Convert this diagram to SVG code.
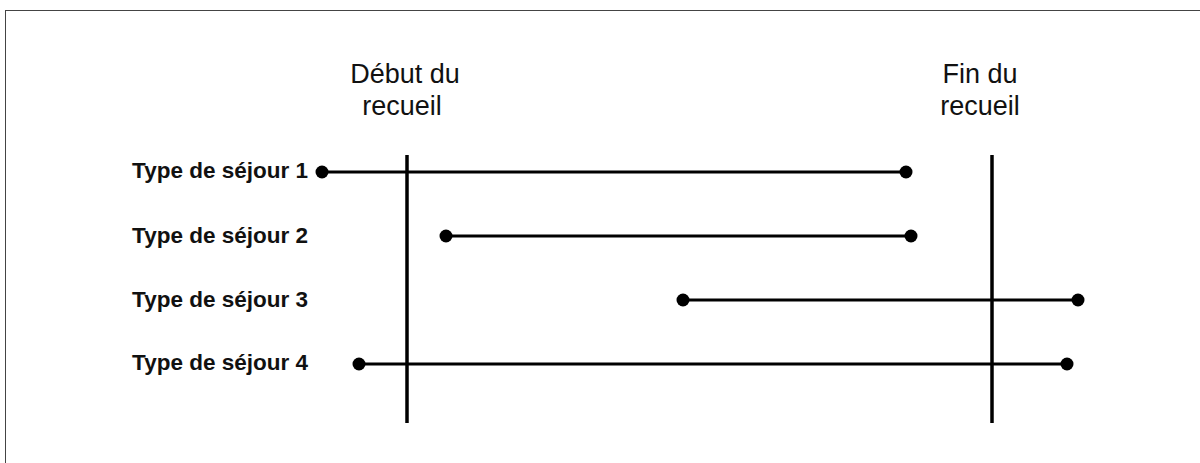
<svg xmlns="http://www.w3.org/2000/svg" width="1200" height="463" viewBox="0 0 1200 463">
  <style>
    .frame { fill: #ffffff; stroke: #444444; stroke-width: 1; }
    .marker-label { font-family: "Liberation Sans", Arial, sans-serif; font-size: 27px; fill: #111111; text-anchor: middle; }
    .row-label { font-family: "Liberation Sans", Arial, sans-serif; font-size: 22.5px; font-weight: bold; fill: #111111; text-anchor: end; }
    .limit { stroke: #000000; stroke-width: 3.5; }
    .span { stroke: #000000; stroke-width: 3; }
    .end { fill: #000000; }
  </style>

  <rect x="0" y="0" width="1200" height="463" fill="#ffffff"/>
  <rect class="frame" x="5.5" y="10.5" width="1210" height="470"/>

  <!-- collection start / end limits -->
  <g id="debut">
    <text class="marker-label" x="405" y="83">Début du</text>
    <text class="marker-label" x="402" y="115">recueil</text>
    <line class="limit" x1="407" y1="155" x2="407" y2="423"/>
  </g>
  <g id="fin">
    <text class="marker-label" x="980" y="83">Fin du</text>
    <text class="marker-label" x="980" y="115">recueil</text>
    <line class="limit" x1="992" y1="155" x2="992" y2="423"/>
  </g>

  <!-- row labels -->
  <g id="sejour1"><text class="row-label" x="308" y="178">Type de séjour 1</text></g>
  <g id="sejour2"><text class="row-label" x="308" y="243">Type de séjour 2</text></g>
  <g id="sejour3"><text class="row-label" x="308" y="307">Type de séjour 3</text></g>
  <g id="sejour4"><text class="row-label" x="308" y="370">Type de séjour 4</text></g>

  <!-- stay spans -->
  <g id="spans">
    <line class="span" x1="322" y1="172" x2="906" y2="172"/>
    <circle class="end" cx="322" cy="172" r="6.5"/>
    <circle class="end" cx="906" cy="172" r="6.5"/>

    <line class="span" x1="446" y1="236" x2="911" y2="236"/>
    <circle class="end" cx="446" cy="236" r="6.5"/>
    <circle class="end" cx="911" cy="236" r="6.5"/>

    <line class="span" x1="683" y1="300" x2="1078" y2="300"/>
    <circle class="end" cx="683" cy="300" r="6.5"/>
    <circle class="end" cx="1078" cy="300" r="6.5"/>

    <line class="span" x1="359" y1="364" x2="1067" y2="364"/>
    <circle class="end" cx="359" cy="364" r="6.5"/>
    <circle class="end" cx="1067" cy="364" r="6.5"/>
  </g>
</svg>
